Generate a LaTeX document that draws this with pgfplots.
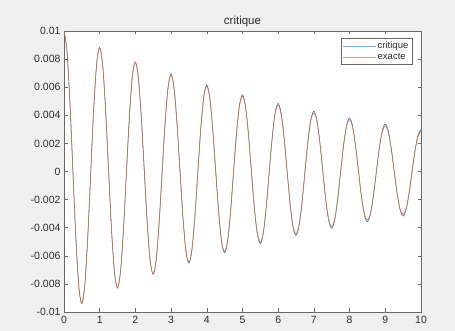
\documentclass[border=0pt]{standalone}
\usepackage{pgfplots}
\pgfplotsset{compat=1.18}
\usepackage{pgfplotstable}
\usepackage{fontspec}
\setmainfont{Liberation Sans}
\definecolor{bg}{RGB}{240,240,240}
\definecolor{mblue}{RGB}{0,114,189}
\definecolor{morange}{RGB}{217,83,25}
\definecolor{axc}{RGB}{105,105,105}
\definecolor{txt}{RGB}{45,45,45}
% values in units of 1e-3
\pgfplotstableread{
t exacte critique
0 10.000 10.000
0.0833 8.570 8.570
0.1667 4.897 4.897
0.25 0 0
0.3333 -4.796 -4.796
0.4167 -8.221 -8.221
0.5 -9.394 -9.394
0.5833 -8.051 -8.051
0.6667 -4.600 -4.600
0.75 0 0
0.8333 4.505 4.505
0.9167 7.722 7.722
1 8.825 8.825
1.0833 7.563 7.563
1.1667 4.321 4.321
1.25 0 0
1.3333 -4.232 -4.232
1.4167 -7.255 -7.255
1.5 -8.290 -8.290
1.5833 -7.105 -7.105
1.6667 -4.060 -4.060
1.75 0 0
1.8333 3.976 3.976
1.9167 6.815 6.815
2 7.788 7.788
2.0833 6.675 6.675
2.1667 3.814 3.814
2.25 0 0
2.3333 -3.735 -3.735
2.4167 -6.402 -6.402
2.5 -7.316 -7.316
2.5833 -6.270 -6.270
2.6667 -3.583 -3.583
2.75 0 0
2.8333 3.509 3.509
2.9167 6.014 6.014
3 6.873 6.942
3.0833 5.890 5.949
3.1667 3.366 3.400
3.25 0 0
3.3333 -3.296 -3.329
3.4167 -5.650 -5.707
3.5 -6.456 -6.521
3.5833 -5.533 -5.588
3.6667 -3.162 -3.194
3.75 0 0
3.8333 3.097 3.128
3.9167 5.308 5.361
4 6.065 6.156
4.0833 5.198 5.276
4.1667 2.970 3.015
4.25 0 0
4.3333 -2.909 -2.953
4.4167 -4.986 -5.061
4.5 -5.698 -5.783
4.5833 -4.883 -4.956
4.6667 -2.790 -2.832
4.75 0 0
4.8333 2.733 2.774
4.9167 4.684 4.754
5 5.353 5.460
5.0833 4.587 4.679
5.1667 2.621 2.673
5.25 0 0
5.3333 -2.567 -2.618
5.4167 -4.400 -4.488
5.5 -5.028 -5.129
5.5833 -4.309 -4.395
5.6667 -2.462 -2.511
5.75 0 0
5.8333 2.412 2.460
5.9167 4.134 4.217
6 4.724 4.842
6.0833 4.048 4.149
6.1667 2.313 2.371
6.25 0 0
6.3333 -2.265 -2.322
6.4167 -3.883 -3.980
6.5 -4.437 -4.548
6.5833 -3.803 -3.898
6.6667 -2.173 -2.227
6.75 0 0
6.8333 2.128 2.181
6.9167 3.648 3.739
7 4.169 4.294
7.0833 3.573 3.680
7.1667 2.041 2.102
7.25 0 0
7.3333 -1.999 -2.059
7.4167 -3.427 -3.530
7.5 -3.916 -4.033
7.5833 -3.356 -3.457
7.6667 -1.918 -1.976
7.75 0 0
7.8333 1.878 1.934
7.9167 3.219 3.316
8 3.679 3.808
8.0833 3.153 3.263
8.1667 1.801 1.864
8.25 0 0
8.3333 -1.764 -1.826
8.4167 -3.024 -3.130
8.5 -3.456 -3.577
8.5833 -2.962 -3.066
8.6667 -1.692 -1.751
8.75 0 0
8.8333 1.657 1.715
8.9167 2.841 2.940
9 3.247 3.377
9.0833 2.782 2.893
9.1667 1.590 1.654
9.25 0 0
9.3333 -1.557 -1.619
9.4167 -2.669 -2.776
9.5 -3.050 -3.172
9.5833 -2.614 -2.719
9.6667 -1.493 -1.553
9.75 0 0
9.8333 1.463 1.522
9.9167 2.507 2.607
10 2.865 2.994
}\data
\begin{document}
\begin{tikzpicture}[x=1pt,y=1pt]
\fill[bg] (0,0) rectangle (455,331);
\useasboundingbox (0,0) rectangle (455,331);
\begin{axis}[
  at={(64pt,19pt)}, anchor=south west,
  scale only axis, width=357pt, height=281pt,
  xmin=0, xmax=10, ymin=-10, ymax=10,
  xtick={0,1,...,10},
  ytick={-10,-8,-6,-4,-2,0,2,4,6,8,10},
  yticklabels={-0.01,-0.008,-0.006,-0.004,-0.002,0,0.002,0.004,0.006,0.008,0.01},
  /pgf/number format/assume math mode=true,
  tick align=inside, major tick length=3.5pt,
  axis line style={axc, line width=0.6pt},
  every tick/.style={axc, line width=0.5pt},
  tick label style={font=\fontsize{10.5}{12}\selectfont, text=txt},
  xticklabel style={yshift=-0.5pt},
  axis background/.style={fill=white},
  every axis title shift=0pt,
  title={critique},
  title style={font=\fontsize{11.5}{13}\selectfont, text=txt, at={(0.5,1)}, anchor=center, yshift=9.5pt},
  legend style={at={(0.975,0.974)}, anchor=north east, draw=axc, line width=0.5pt,
    font=\fontsize{9.5}{10}\selectfont, text=txt, inner sep=2pt, row sep=0pt,
    nodes={inner sep=1.5pt}},
  legend cell align=left,
  legend image code/.code={\draw[#1, line width=0.6pt] (-0.1cm,0) -- (1.05cm,0);},
]
\addplot[mblue, line width=0.5pt, smooth, forget plot] table[x=t, y=critique] {\data};
\addplot[morange!85!white, line width=0.6pt, smooth, forget plot] table[x=t, y=exacte] {\data};
\addlegendimage{mblue!55!white}
\addlegendentry{critique}
\addlegendimage{morange!55!white}
\addlegendentry{exacte}
\end{axis}
\end{tikzpicture}
\end{document}
